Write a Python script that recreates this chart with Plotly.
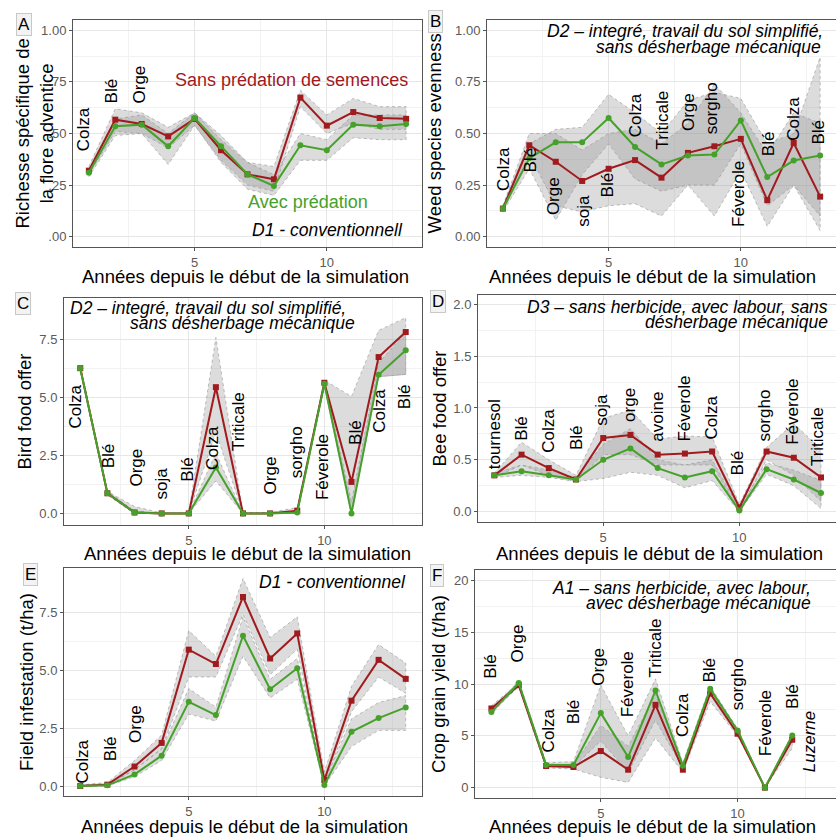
import plotly.graph_objects as go

W, H = 836, 837
FONT = "Liberation Sans, Arial, sans-serif"
RED = "#A01A1E"
GREEN = "#45A12A"

years = list(range(1, 14))
years_f = list(range(1, 13))

# ---------------- Panel A : weed species richness ----------------
a_red = [0.32, 0.567, 0.546, 0.486, 0.571, 0.419, 0.302, 0.278, 0.674, 0.538, 0.604, 0.575, 0.571]
a_red_lo = [0.30, 0.51, 0.50, 0.43, 0.54, 0.37, 0.25, 0.22, 0.63, 0.50, 0.55, 0.52, 0.52]
a_red_hi = [0.34, 0.62, 0.60, 0.53, 0.60, 0.47, 0.36, 0.34, 0.71, 0.59, 0.67, 0.63, 0.63]
a_grn = [0.31, 0.535, 0.543, 0.438, 0.575, 0.438, 0.302, 0.246, 0.443, 0.419, 0.543, 0.535, 0.546]
a_grn_lo = [0.29, 0.49, 0.50, 0.35, 0.54, 0.36, 0.23, 0.20, 0.37, 0.37, 0.48, 0.47, 0.47]
a_grn_hi = [0.33, 0.57, 0.59, 0.50, 0.60, 0.49, 0.36, 0.30, 0.50, 0.47, 0.59, 0.59, 0.59]
a_crops = ["Colza", "Blé", "Orge"]
a_crop_x = [0.83, 1.84, 2.92]
a_crop_y = [0.406, 0.634, 0.634]

# ---------------- Panel B : weed species evenness ----------------
b_red = [0.136, 0.443, 0.363, 0.27, 0.329, 0.371, 0.286, 0.406, 0.438, 0.474, 0.177, 0.454, 0.194]
b_red_lo = [0.12, 0.40, 0.15, 0.12, 0.15, 0.16, 0.10, 0.25, 0.10, 0.32, 0.05, 0.25, 0.03]
b_red_hi = [0.15, 0.50, 0.50, 0.42, 0.50, 0.52, 0.45, 0.55, 0.74, 0.60, 0.40, 0.60, 0.55]
b_grn = [0.136, 0.38, 0.457, 0.457, 0.575, 0.435, 0.35, 0.393, 0.398, 0.563, 0.289, 0.369, 0.393]
b_grn_lo = [0.12, 0.33, 0.08, 0.30, 0.45, 0.28, 0.22, 0.25, 0.25, 0.45, 0.15, 0.25, 0.10]
b_grn_hi = [0.15, 0.45, 0.52, 0.53, 0.69, 0.60, 0.50, 0.66, 0.70, 0.67, 0.45, 0.50, 0.87]
b_crops = ["Colza", "Blé", "Orge", "soja", "Blé", "Colza", "Triticale", "Orge", "sorgho",
           "Féverole", "Blé", "Colza", "Blé"]
b_crop_x = [1.02, 2.05, 2.92, 4.02, 4.96, 6.02, 7.05, 8.0, 8.87, 9.89, 11.06, 12.0, 12.95]
b_crop_y = [0.213, 0.302, 0.093, 0.037, 0.181, 0.47, 0.414, 0.502, 0.486, 0.037, 0.382, 0.454, 0.438]

# ---------------- Panel C : bird food offer ----------------
c_red = [6.27, 0.87, 0.04, 0, 0, 5.45, 0, 0, 0.12, 5.64, 1.36, 6.75, 7.83]
c_red_lo = [6.2, 0.8, 0, 0, 0, 3.5, 0, 0, 0, 5.5, 0.1, 5.9, 6.0]
c_red_hi = [6.35, 0.95, 0.3, 0.02, 0.02, 7.6, 0.02, 0.05, 0.25, 5.75, 5.05, 7.9, 8.45]
c_grn = [6.27, 0.87, 0.04, 0, 0, 1.98, 0, 0, 0.04, 5.6, 0, 5.99, 7.04]
c_grn_lo = [6.2, 0.8, 0, 0, 0, 1.4, 0, 0, 0, 5.5, 0, 5.9, 6.0]
c_grn_hi = [6.35, 0.95, 0.1, 0.02, 0.02, 2.6, 0.02, 0.02, 0.1, 5.7, 0.5, 6.5, 7.8]
c_crops = ["Colza", "Blé", "Orge", "soja", "Blé", "Colza", "Triticale", "Orge", "sorgho",
           "Féverole", "Blé", "Colza", "Blé"]
c_crop_x = [0.82, 2.05, 3.06, 4.0, 4.97, 5.9, 6.83, 8.02, 8.96, 9.96, 11.12, 12.05, 12.98]
c_crop_y = [3.6, 1.87, 1.08, 0.5, 1.3, 1.8, 2.6, 0.72, 1.44, 0.5, 2.88, 3.39, 4.4]

# ---------------- Panel D : bee food offer ----------------
d_red = [0.35, 0.55, 0.42, 0.31, 0.71, 0.74, 0.55, 0.56, 0.58, 0.04, 0.58, 0.52, 0.33]
d_red_lo = [0.33, 0.45, 0.35, 0.29, 0.55, 0.55, 0.45, 0.45, 0.45, 0.0, 0.50, 0.35, 0.10]
d_red_hi = [0.37, 0.67, 0.50, 0.35, 0.90, 0.98, 0.70, 0.73, 0.72, 0.07, 0.62, 0.85, 0.60]
d_grn = [0.35, 0.39, 0.35, 0.31, 0.50, 0.61, 0.42, 0.33, 0.39, 0.01, 0.41, 0.31, 0.18]
d_grn_lo = [0.33, 0.35, 0.33, 0.29, 0.32, 0.38, 0.35, 0.23, 0.30, 0.0, 0.36, 0.25, 0.03]
d_grn_hi = [0.37, 0.45, 0.40, 0.33, 0.65, 0.80, 0.50, 0.45, 0.50, 0.03, 0.47, 0.40, 0.30]
d_crops = ["tournesol", "Blé", "Colza", "Blé", "soja", "orge", "avoine", "Féverole", "Colza",
           "Blé", "sorgho", "Féverole", "Triticale"]
d_crop_x = [0.99, 2.02, 3.01, 4.0, 4.96, 5.96, 6.99, 7.98, 8.97, 9.93, 10.92, 11.95, 12.87]
d_crop_y = [0.39, 0.66, 0.55, 0.57, 0.81, 0.85, 0.66, 0.66, 0.68, 0.33, 0.66, 0.63, 0.42]

# ---------------- Panel E : field infestation ----------------
e_red = [0, 0.06, 0.84, 1.86, 5.88, 5.26, 8.15, 5.5, 6.58, 0.26, 3.68, 5.44, 4.62]
e_red_lo = [0, 0, 0.7, 1.6, 4.7, 4.7, 7.4, 4.8, 5.9, 0.1, 3.2, 4.7, 4.0]
e_red_hi = [0.05, 0.15, 1.1, 2.2, 6.7, 5.6, 8.95, 6.4, 7.3, 0.6, 4.3, 6.1, 5.3]
e_grn = [0, 0.03, 0.5, 1.31, 3.63, 3.06, 6.48, 4.17, 5.08, 0.04, 2.34, 2.93, 3.39]
e_grn_lo = [0, 0, 0.4, 1.1, 3.1, 2.8, 5.6, 3.8, 4.6, 0, 1.7, 2.4, 2.4]
e_grn_hi = [0.05, 0.1, 0.7, 1.6, 4.2, 3.4, 7.3, 4.6, 5.5, 0.15, 2.9, 3.6, 3.9]
e_crops = ["Colza", "Blé", "Orge"]
e_crop_x = [1.07, 2.1, 3.01]
e_crop_y = [0.03, 0.97, 1.76]

# ---------------- Panel F : crop grain yield ----------------
f_red = [7.64, 9.89, 2.09, 1.99, 3.53, 1.73, 7.99, 1.73, 9.08, 5.2, 0, 4.62]
f_red_lo = [7.4, 9.7, 1.9, 1.8, 1.0, 0.5, 4.8, 1.5, 8.3, 5.0, 0, 3.8]
f_red_hi = [7.9, 10.1, 2.3, 2.2, 6.0, 4.0, 9.0, 2.2, 9.4, 5.6, 0, 4.8]
f_grn = [7.29, 10.1, 2.18, 2.18, 7.19, 2.95, 9.37, 2.12, 9.53, 5.52, 0, 5.04]
f_grn_lo = [7.1, 9.8, 2.0, 2.0, 4.5, 1.5, 6.5, 1.9, 9.2, 5.3, 0, 4.8]
f_grn_hi = [7.6, 10.3, 2.4, 2.5, 9.9, 5.0, 10.5, 2.4, 9.8, 5.7, 0, 5.2]
f_crops = ["Blé", "Orge", "Colza", "Blé", "Orge", "Féverole", "Triticale", "Colza", "Blé",
           "sorgho", "Féverole", "Blé", "Luzerne"]
f_crop_x = [0.99, 1.97, 3.07, 4.01, 4.93, 5.99, 7.0, 7.99, 8.94, 10.0, 11.02, 12.0, 12.66]
f_crop_y = [10.27, 11.88, 3.21, 5.94, 9.63, 6.58, 10.43, 4.65, 9.95, 7.22, 2.89, 7.38, 1.28]

x_title = "Années depuis le début de la simulation"

# ---------------- layout specification (pixels) ----------------
panels = [
    dict(key="A", x=years, red=(a_red, a_red_lo, a_red_hi), grn=(a_grn, a_grn_lo, a_grn_hi),
         crops=(a_crops, a_crop_x, a_crop_y), box=(73, 422, 20, 247), xr=[0.4, 13.6], yr=[-0.05, 1.05],
         yt=[0, .25, .5, .75, 1], ytt=[".00", ".25", ".50", ".75", "1.00"], ymin=0.125,
         ytitle="Richesse spécifique de<br>la flore adventice", ytx=34, lab=(24, 25),
         xtx=246, xty=276, right=True),
    dict(key="B", x=years, red=(b_red, b_red_lo, b_red_hi), grn=(b_grn, b_grn_lo, b_grn_hi),
         crops=(b_crops, b_crop_x, b_crop_y), box=(487, 836, 20, 247), xr=[0.4, 13.6], yr=[-0.05, 1.05],
         yt=[0, .25, .5, .75, 1], ytt=["0.00", "0.25", "0.50", "0.75", "1.00"], ymin=0.125,
         ytitle="Weed species evenness", ytx=434, lab=(436, 22), xtx=652, xty=276, right=False),
    dict(key="C", x=years, red=(c_red, c_red_lo, c_red_hi), grn=(c_grn, c_grn_lo, c_grn_hi),
         crops=(c_crops, c_crop_x, c_crop_y), box=(64, 422, 298, 525), xr=[0.4, 13.6], yr=[-0.5, 9.3],
         yt=[0, 2.5, 5, 7.5], ytt=["0.0", "2.5", "5.0", "7.5"], ymin=1.25,
         ytitle="Bird food offer", ytx=24, lab=(23, 303), xtx=247, xty=553, right=True),
    dict(key="D", x=years, red=(d_red, d_red_lo, d_red_hi), grn=(d_grn, d_grn_lo, d_grn_hi),
         crops=(d_crops, d_crop_x, d_crop_y), box=(478, 836, 295, 522), xr=[0.4, 13.55], yr=[-0.1, 2.09],
         yt=[0, .5, 1, 1.5, 2], ytt=["0.0", "0.5", "1.0", "1.5", "2.0"], ymin=0.25,
         ytitle="Bee food offer", ytx=439, lab=(438, 302), xtx=659, xty=553, right=False),
    dict(key="E", x=years, red=(e_red, e_red_lo, e_red_hi), grn=(e_grn, e_grn_lo, e_grn_hi),
         crops=(e_crops, e_crop_x, e_crop_y), box=(64, 422, 568, 796), xr=[0.4, 13.6], yr=[-0.43, 9.4],
         yt=[0, 2.5, 5, 7.5], ytt=["0.0", "2.5", "5.0", "7.5"], ymin=1.25,
         ytitle="Field infestation (t/ha)", ytx=26, lab=(30, 574), xtx=244, xty=826, right=True),
    dict(key="F", x=years_f, red=(f_red, f_red_lo, f_red_hi), grn=(f_grn, f_grn_lo, f_grn_hi),
         crops=(f_crops, f_crop_x, f_crop_y), box=(475, 836, 570, 798), xr=[0.4, 13.6], yr=[-1, 21],
         yt=[0, 5, 10, 15, 20], ytt=["0", "5", "10", "15", "20"], ymin=2.5,
         ytitle="Crop grain yield (t/ha)", ytx=438, lab=(437, 575), xtx=652, xty=826, right=False),
]

# scenario titles: (text line, right edge px, centre y px)
scen = [
    [("D1 - conventionnell", 405, 230)],
    [("D2 – integré, travail du sol simplifié,", 825, 31), ("sans désherbage mécanique", 823, 47)],
    [("D2 – integré, travail du sol simplifié,", 348, 308), ("sans désherbage mécanique", 357, 323)],
    [("D3 – sans herbicide, avec labour, sans", 830, 307), ("désherbage mécanique", 830, 322)],
    [("D1 - conventionnel", 408, 582)],
    [("A1 – sans herbicide, avec labour,", 813, 588), ("avec désherbage mécanique", 813, 603)],
]


def px(x):
    return x / W


def py(y):
    return 1 - y / H


fig = go.Figure()
annotations = []
layout = {}

BAND_FILL = "rgba(150,150,150,0.33)"
BAND_LINE = "rgba(140,140,140,0.55)"
TICK_FONT = dict(family=FONT, size=13, color="#5a5a5a")

for i, p in enumerate(panels):
    n = i + 1
    xa = "x" if n == 1 else f"x{n}"
    ya = "y" if n == 1 else f"y{n}"
    xk = "xaxis" if n == 1 else f"xaxis{n}"
    yk = "yaxis" if n == 1 else f"yaxis{n}"
    l, r, t, b = p["box"]
    xs = p["x"]
    # ribbons
    for (mean, lo, hi) in (p["red"], p["grn"]):
        fig.add_trace(go.Scatter(
            x=list(xs) + list(xs)[::-1], y=list(hi) + list(lo)[::-1], xaxis=xa, yaxis=ya,
            fill="toself", fillcolor=BAND_FILL, mode="lines",
            line=dict(color=BAND_LINE, width=1, dash="dot"), hoverinfo="skip", showlegend=False))
    # lines
    fig.add_trace(go.Scatter(x=xs, y=p["red"][0], xaxis=xa, yaxis=ya, mode="lines+markers",
                             line=dict(color=RED, width=2),
                             marker=dict(symbol="square", size=6, color=RED), showlegend=False))
    fig.add_trace(go.Scatter(x=xs, y=p["grn"][0], xaxis=xa, yaxis=ya, mode="lines+markers",
                             line=dict(color=GREEN, width=2),
                             marker=dict(symbol="circle", size=6, color=GREEN), showlegend=False))

    layout[xk] = dict(
        domain=[px(l), px(r)], anchor=ya, range=p["xr"], tick0=0, dtick=5,
        showgrid=True, gridcolor="#E6E6E6", gridwidth=1,
        minor=dict(dtick=2.5, tick0=0, showgrid=True, gridcolor="#F2F2F2", gridwidth=1),
        showline=True, linecolor="#555555", linewidth=1, mirror=True,
        ticks="outside", ticklen=3, tickcolor="#555555",
        tickfont=TICK_FONT, zeroline=False, fixedrange=True)
    layout[yk] = dict(
        domain=[py(b), py(t)], anchor=xa, range=p["yr"], tickmode="array",
        tickvals=p["yt"], ticktext=p["ytt"],
        showgrid=True, gridcolor="#E6E6E6", gridwidth=1,
        minor=dict(tickmode="array", tickvals=[v + p["ymin"] for v in p["yt"][:-1]],
                   showgrid=True, gridcolor="#F2F2F2", gridwidth=1),
        showline=True, linecolor="#555555", linewidth=1, mirror=p["right"],
        ticks="outside", ticklen=3, tickcolor="#555555",
        tickfont=TICK_FONT, zeroline=False, fixedrange=True)

    # crop labels
    names, cx, cy = p["crops"]
    for name, xv, yv in zip(names, cx, cy):
        txt = f"<i>{name}</i>" if name == "Luzerne" else name
        annotations.append(dict(x=xv, y=yv, xref=xa, yref=ya, text=txt, textangle=-90,
                                showarrow=False, xanchor="center", yanchor="bottom",
                                font=dict(family=FONT, size=17, color="black")))
    # scenario title
    for (txt, rx, cyp) in scen[i]:
        annotations.append(dict(x=px(rx), y=py(cyp), xref="paper", yref="paper",
                                text=f"<i>{txt}</i>", showarrow=False, xanchor="right",
                                yanchor="middle", font=dict(family=FONT, size=17.5, color="black")))
    # axis titles
    annotations.append(dict(x=px(p["xtx"]), y=py(p["xty"]), xref="paper", yref="paper",
                            text=x_title, showarrow=False, xanchor="center", yanchor="middle",
                            font=dict(family=FONT, size=18.5, color="black")))
    annotations.append(dict(x=px(p["ytx"]), y=py((t + b) / 2), xref="paper", yref="paper",
                            text=p["ytitle"], textangle=-90, showarrow=False,
                            xanchor="center", yanchor="middle",
                            font=dict(family=FONT, size=18.5, color="black")))
    # panel letter
    annotations.append(dict(x=px(p["lab"][0]), y=py(p["lab"][1]), xref="paper", yref="paper",
                            text=p["key"], showarrow=False, xanchor="center", yanchor="middle",
                            bgcolor="#F3F3F3", bordercolor="#C8C8C8", borderwidth=1, borderpad=1,
                            font=dict(family=FONT, size=17, color="black")))

# series labels in panel A
annotations.append(dict(x=8.68, y=0.759, xref="x", yref="y", text="Sans prédation de semences",
                        showarrow=False, xanchor="center", yanchor="middle",
                        font=dict(family=FONT, size=18, color=RED)))
annotations.append(dict(x=9.29, y=0.168, xref="x", yref="y", text="Avec prédation",
                        showarrow=False, xanchor="center", yanchor="middle",
                        font=dict(family=FONT, size=18, color=GREEN)))

fig.update_layout(
    width=W, height=H, margin=dict(l=0, r=0, t=0, b=0),
    paper_bgcolor="white", plot_bgcolor="white",
    showlegend=False, annotations=annotations, **layout)

fig.write_html("out.html", config={"displayModeBar": False},
               post_script="document.body.style.margin='0';document.body.style.overflow='hidden';")
